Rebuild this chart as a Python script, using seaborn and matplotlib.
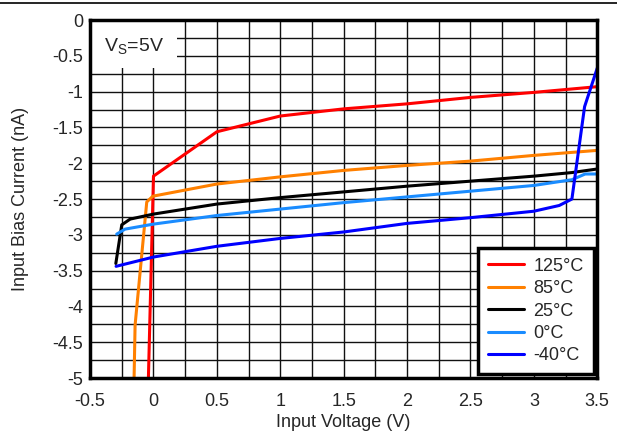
import pandas as pd
import numpy as np
import seaborn as sn
import matplotlib.pyplot as plt
from matplotlib.patches import Rectangle
from matplotlib.lines import Line2D

# curves (Input Voltage V, Input Bias Current nA)
v_125 = [-0.04, 0.0, 0.5, 1.0, 1.5, 2.0, 2.5, 3.0, 3.5]
i_125 = [-5.0, -2.18, -1.56, -1.34, -1.24, -1.17, -1.08, -1.01, -0.93]

v_85 = [-0.153, -0.145, -0.053, -0.005, 0.5, 1.0, 1.5, 2.0, 2.5, 3.0, 3.5]
i_85 = [-5.0, -4.26, -2.54, -2.46, -2.29, -2.19, -2.10, -2.03, -1.97, -1.89, -1.82]

v_25 = [-0.297, -0.25, -0.184, 0.0, 0.5, 1.0, 1.5, 2.0, 2.5, 3.0, 3.3, 3.5]
i_25 = [-3.40, -2.86, -2.78, -2.71, -2.57, -2.48, -2.40, -2.32, -2.25, -2.18, -2.13, -2.08]

v_0 = [-0.29, -0.224, 0.0, 0.5, 1.0, 1.5, 2.0, 2.5, 3.0, 3.3, 3.405, 3.5]
i_0 = [-2.99, -2.92, -2.85, -2.73, -2.64, -2.55, -2.47, -2.39, -2.31, -2.23, -2.15, -2.15]

v_m40 = [-0.295, 0.0, 0.5, 1.0, 1.5, 2.0, 2.5, 3.0, 3.2, 3.3, 3.4, 3.5]
i_m40 = [-3.44, -3.31, -3.16, -3.05, -2.96, -2.84, -2.76, -2.67, -2.59, -2.50, -1.21, -0.67]

labels = ['125°C', '85°C', '25°C', '0°C', '-40°C']
colors = ['#FF0000', '#FF8000', '#000000', '#1A8CFF', '#0000FF']

xticks = np.arange(-0.5, 3.51, 0.5)
yticks = np.arange(-5, 0.01, 0.5)

frames = []
for lab, v, i in zip(labels, [v_125, v_85, v_25, v_0, v_m40],
                     [i_125, i_85, i_25, i_0, i_m40]):
    frames.append(pd.DataFrame({'V': v, 'I': i, 'T': lab}))
df = pd.concat(frames, ignore_index=True)

sn.set_style('white')
plt.rcParams['font.family'] = ['Liberation Sans', 'DejaVu Sans']
fs = 13

fig = plt.figure(figsize=(6.17, 4.37), dpi=100)
ax = fig.add_axes([0.146, 0.135, 0.822, 0.819])

# grid every 0.25
for x in np.arange(-0.5, 3.51, 0.25):
    ax.axvline(x, color='#111111', lw=1.0, zorder=1)
for y in np.arange(-5, 0.01, 0.25):
    ax.axhline(y, color='#111111', lw=1.0, zorder=1)

sn.lineplot(data=df, x='V', y='I', hue='T', palette=dict(zip(labels, colors)),
            hue_order=labels, sort=False, estimator=None, lw=2.2, ax=ax, zorder=3)

ax.set_xlim(-0.5, 3.5)
ax.set_ylim(-5, 0)
ax.set_xticks(xticks)
ax.set_xticklabels([f'{t:g}' for t in xticks])
ax.set_yticks(yticks)
ax.set_yticklabels([f'{t:g}' for t in yticks])
ax.tick_params(axis='x', length=0, labelsize=fs, pad=11)
ax.tick_params(axis='y', length=0, labelsize=fs, pad=5)
ax.set_xlabel('Input Voltage (V)', fontsize=fs, labelpad=3)
ax.set_ylabel('Input Bias Current (nA)', fontsize=fs, labelpad=17)
for s in ax.spines.values():
    s.set_color('black')
    s.set_linewidth(2.5)
    s.set_zorder(5)

# Vs label box
ax.add_patch(Rectangle((0.004, 0.866), 0.168, 0.128, transform=ax.transAxes,
                       facecolor='white', edgecolor='none', zorder=4))
ax.text(0.087, 0.925, r'V$_\mathregular{S}$=5V', transform=ax.transAxes,
        ha='center', va='center', fontsize=14, zorder=5)

leg = ax.legend(loc='lower right', fontsize=fs, frameon=True, fancybox=False,
                handlelength=1.95, handletextpad=0.55, labelspacing=0.3,
                borderpad=0.55, borderaxespad=0.2, title=None)
leg.get_frame().set_edgecolor('black')
leg.get_frame().set_linewidth(2.5)
leg.get_frame().set_alpha(1)
leg.set_zorder(6)

fig.add_artist(Line2D([0, 1], [1 - 2.5 / 437, 1 - 2.5 / 437], color='black',
                      lw=1.2, transform=fig.transFigure))

plt.savefig('out.png', dpi=100)
